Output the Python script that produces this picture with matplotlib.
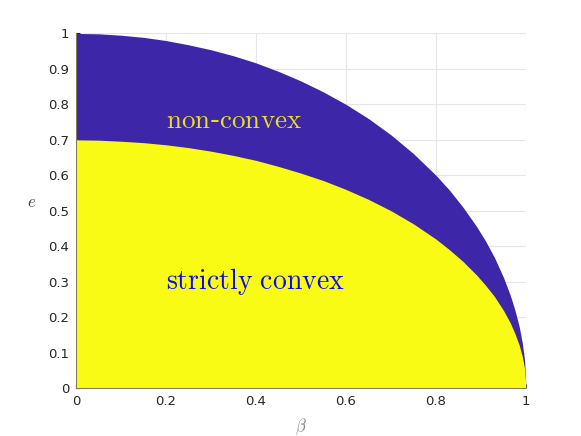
import numpy as np
import matplotlib.pyplot as plt

# values
beta = [0.0, 0.05, 0.1, 0.15, 0.2, 0.25, 0.3, 0.35, 0.4, 0.45, 0.5, 0.55, 0.6, 0.65,
        0.7, 0.75, 0.8, 0.83, 0.86, 0.89, 0.91, 0.93, 0.95, 0.965, 0.975, 0.985,
        0.992, 0.997, 1.0]
e_outer = [1.0, 0.999, 0.995, 0.989, 0.98, 0.968, 0.954, 0.937, 0.917, 0.893, 0.866,
           0.835, 0.8, 0.76, 0.714, 0.661, 0.6, 0.558, 0.51, 0.456, 0.415, 0.368,
           0.312, 0.262, 0.222, 0.173, 0.126, 0.077, 0.0]
e_inner = [0.7, 0.699, 0.696, 0.692, 0.686, 0.678, 0.668, 0.656, 0.642, 0.625, 0.606,
           0.585, 0.56, 0.532, 0.5, 0.463, 0.42, 0.39, 0.357, 0.319, 0.29, 0.258,
           0.219, 0.184, 0.155, 0.121, 0.088, 0.054, 0.0]
ticks = [0, 0.1, 0.2, 0.3, 0.4, 0.5, 0.6, 0.7, 0.8, 0.9, 1]
xticks = [0, 0.2, 0.4, 0.6, 0.8, 1]

plt.rcParams['mathtext.fontset'] = 'cm'

fig = plt.figure(figsize=(5.81, 4.36), dpi=100)
ax = fig.add_axes([0.1308, 0.110, 0.7745, 0.8133])

blue = '#3e26a8'
yellow = '#f9fb15'
ax.fill_between(beta, 0, e_outer, color=blue, lw=0, zorder=2)
ax.fill_between(beta, 0, e_inner, color=yellow, lw=0, zorder=3)

ax.set_xlim(0, 1)
ax.set_ylim(0, 1)
ax.set_xticks(xticks)
ax.set_yticks(ticks)
ax.set_xticklabels(['0', '0.2', '0.4', '0.6', '0.8', '1'])
ax.set_yticklabels(['0', '0.1', '0.2', '0.3', '0.4', '0.5', '0.6', '0.7', '0.8', '0.9', '1'])
ax.grid(True, color='#e6e6e6', lw=0.8, zorder=0)
ax.set_axisbelow(True)
ax.tick_params(direction='in', length=3, labelsize=9.5, colors='#262626', pad=5)
for s in ['top', 'right']:
    ax.spines[s].set_visible(False)
for s in ['left', 'bottom']:
    ax.spines[s].set_color('#808060')
    ax.spines[s].set_zorder(5)

ax.set_xlabel(r'$\beta$', fontsize=12, color='#808080', labelpad=6)
ax.set_ylabel(r'$e$', fontsize=12, color='#404040', rotation=0, labelpad=12)

ax.text(0.2, 0.752, r'$\mathrm{non}$-$\mathrm{convex}$', color='#e8e020', fontsize=19.5,
        va='center', ha='left', zorder=6)
ax.text(0.2, 0.30, r'$\mathrm{strictly\ convex}$', color='#0a0af5', fontsize=20,
        va='center', ha='left', zorder=6)

fig.savefig('out.png', dpi=100)
